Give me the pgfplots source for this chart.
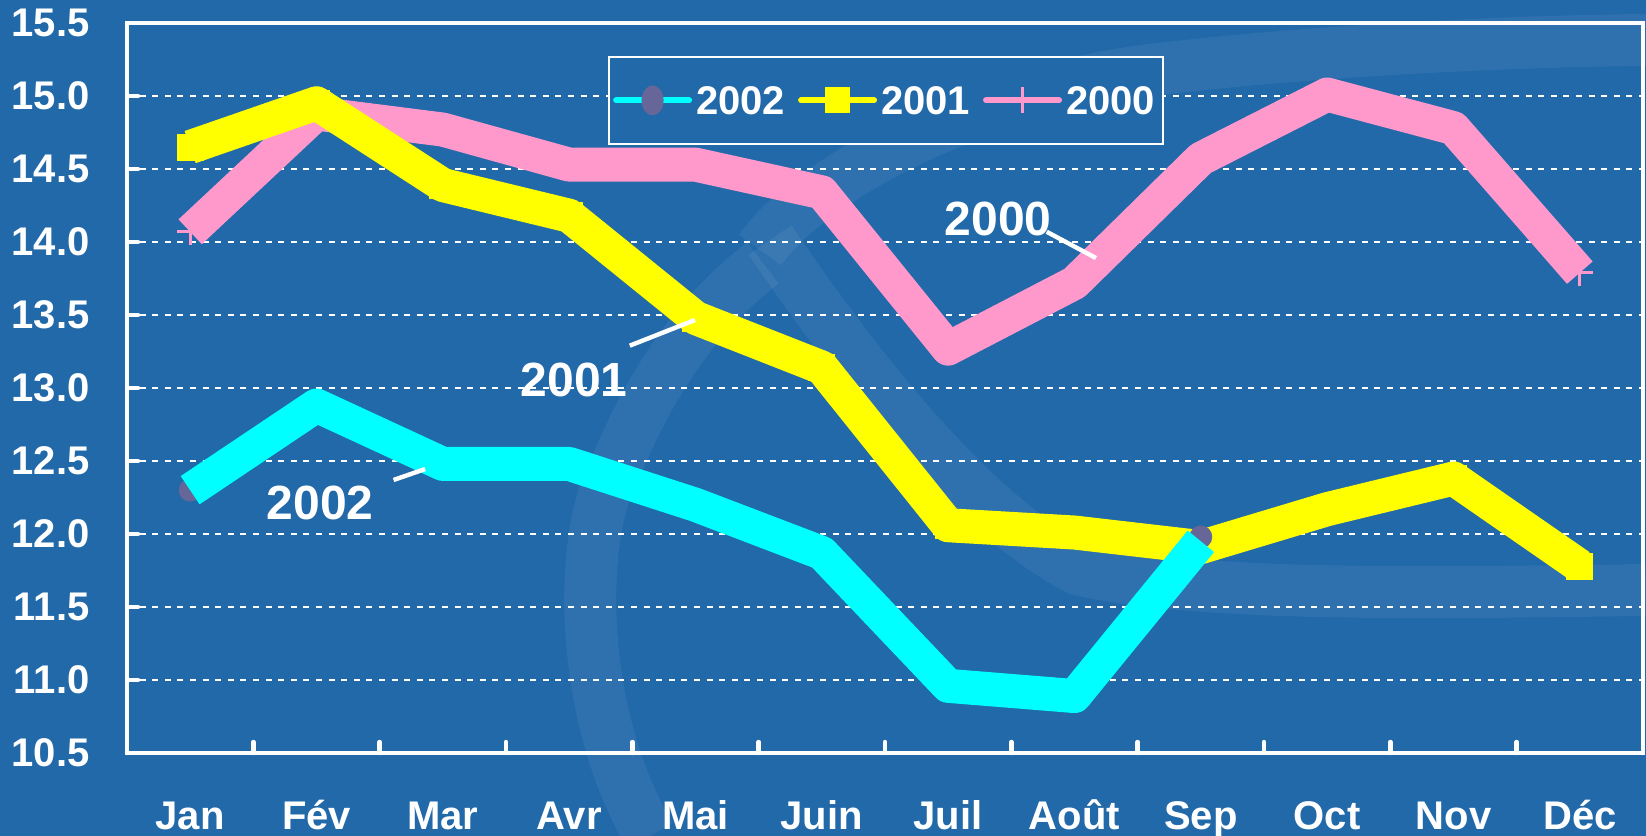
\documentclass[border=0pt]{standalone}
\usepackage{fontspec}
\setmainfont{Liberation Sans}
\usepackage{pgfplots}
\pgfplotsset{compat=1.18}
\definecolor{bgblue}{RGB}{33,105,169}
\definecolor{cyanl}{RGB}{0,255,255}
\definecolor{yell}{RGB}{255,255,0}
\definecolor{pinkl}{RGB}{255,153,204}
\definecolor{mkpurple}{RGB}{102,102,153}
\newcommand{\lbl}{\bfseries\fontsize{20}{24}\selectfont}
\newcommand{\ann}{\bfseries\fontsize{24}{28}\selectfont}

\begin{document}
\begin{tikzpicture}[x=1pt,y=1pt]
\path[use as bounding box, fill=bgblue] (-63.5,-41.5) rectangle (759.5,376.5);
\begin{scope}[white, opacity=0.06, line width=26pt]
\draw (261.5,-41.5) .. controls (225,20) and (225,110) .. (245,144.5) .. controls (262,185) and (285,220) .. (318,245);
\draw (321.5,256.5) .. controls (360,200) and (420,120) .. (476.5,91.5) .. controls (540,78) and (650,80) .. (759.5,81.5);
\draw (316.5,251.5) .. controls (340,285) and (420,330) .. (511.5,341.5) .. controls (600,352) and (700,356) .. (759.5,356.5);
\end{scope}
\begin{axis}[
  at={(0,0)}, anchor=south west,
  scale only axis, width=758pt, height=365pt,
  xmin=0.5, xmax=12.5, ymin=10.5, ymax=15.5,
  xtick={0.5,1.5,2.5,3.5,4.5,5.5,6.5,7.5,8.5,9.5,10.5,11.5,12.5},
  x tick label as interval,
  xticklabels={Jan,Fév,Mar,Avr,Mai,Juin,Juil,Août,Sep,Oct,Nov,Déc},
  ytick={10.5,11,11.5,12,12.5,13,13.5,14,14.5,15,15.5},
  yticklabels={10.5,11.0,11.5,12.0,12.5,13.0,13.5,14.0,14.5,15.0,15.5},
  tick pos=left, tick align=inside,
  major tick length=5.5pt,
  every tick/.style={white, line width=2.2pt, line cap=round},
  axis line style={white, line width=2.4pt},
  ymajorgrids,
  major grid style={white, line width=1pt, dash pattern=on 3pt off 3.3pt},
  every tick label/.append style={text=white, font=\lbl},
  yticklabel style={anchor=east, inner sep=0pt, xshift=-18.5pt},
  xticklabel style={anchor=north, inner sep=0pt, yshift=-23.5pt, text height=14.5pt, text depth=4pt},
  legend columns=3,
  reverse legend,
  legend style={at={(0.5007,0.894)}, anchor=center, draw=white, line width=0.8pt,
    fill=bgblue, text=white, font=\lbl, inner xsep=2pt, inner ysep=12.75pt,
    nodes={inner sep=2pt, text depth=0pt},
    /tikz/every even column/.append style={column sep=4.5pt}},
  clip=false,
  clip marker paths=true,
]
% 2000
\addplot[only marks, mark=+, mark size=6.5pt, pinkl, line width=1.5pt, forget plot] coordinates {
(1,14.07) (2,14.88) (3,14.77) (4,14.53) (5,14.53) (6,14.34) (7,13.27) (8,13.72) (9,14.57) (10,15.01) (11,14.78) (12,13.79)};
\addplot[pinkl, line width=17pt, line join=round, line cap=butt, no markers,
  legend image code/.code={\draw[pinkl, line width=3pt, line cap=round] (0pt,0pt) -- (36.5pt,0pt);
  \draw[pinkl, line width=1.3pt] (18.25pt,-6.5pt) -- (18.25pt,6.5pt);}] coordinates {
(1,14.07) (2,14.88) (3,14.77) (4,14.53) (5,14.53) (6,14.34) (7,13.27) (8,13.72) (9,14.57) (10,15.01) (11,14.78) (12,13.79)};
\addlegendentry{2000}
% 2001
\addplot[only marks, mark=square*, mark size=6.5pt, yell, forget plot] coordinates {
(1,14.65) (2,14.95) (3,14.39) (4,14.18) (5,13.48) (6,13.14) (7,12.06) (8,12.01) (9,11.91) (10,12.17) (11,12.38) (12,11.78)};
\addplot[yell, line width=17pt, line join=round, line cap=butt, no markers,
  legend image code/.code={\draw[yell, line width=3pt, line cap=round] (0pt,0pt) -- (36.5pt,0pt);
  \fill[yell, draw=none] (12pt,-6.5pt) rectangle (24.5pt,6.5pt);}] coordinates {
(1,14.65) (2,14.95) (3,14.39) (4,14.18) (5,13.48) (6,13.14) (7,12.06) (8,12.01) (9,11.91) (10,12.17) (11,12.38) (12,11.78)};
\addlegendentry{2001}
% 2002
\addplot[only marks, mark=*, mark size=5.5pt, mkpurple, mark options={draw=none, fill=mkpurple}, forget plot] coordinates {
(1,12.30) (2,12.88) (3,12.48) (4,12.48) (5,12.20) (6,11.87) (7,10.96) (8,10.89) (9,11.98)};
\addplot[cyanl, line width=17pt, line join=round, line cap=butt, no markers,
  legend image code/.code={\draw[cyanl, line width=3pt, line cap=round] (0pt,0pt) -- (36.5pt,0pt);
  \fill[mkpurple, draw=none] (18.25pt,0pt) ellipse (5.5pt and 7.5pt);}] coordinates {
(1,12.30) (2,12.88) (3,12.48) (4,12.48) (5,12.20) (6,11.87) (7,10.96) (8,10.89) (9,11.95)};
\addlegendentry{2002}
% annotations
\node[text=white, font=\ann, inner sep=0pt] at (axis cs:2.028,12.21) {2002};
\draw[white, line width=2.2pt] (axis cs:2.61,12.37) -- (axis cs:2.86,12.445);
\node[text=white, font=\ann, inner sep=0pt] at (axis cs:4.04,13.055) {2001};
\draw[white, line width=2.2pt] (axis cs:4.48,13.29) -- (axis cs:4.996,13.466);
\node[text=white, font=\ann, inner sep=0pt] at (axis cs:7.395,14.16) {2000};
\draw[white, line width=2.2pt] (axis cs:7.78,14.07) -- (axis cs:8.17,13.89);
\end{axis}
\end{tikzpicture}
\end{document}
